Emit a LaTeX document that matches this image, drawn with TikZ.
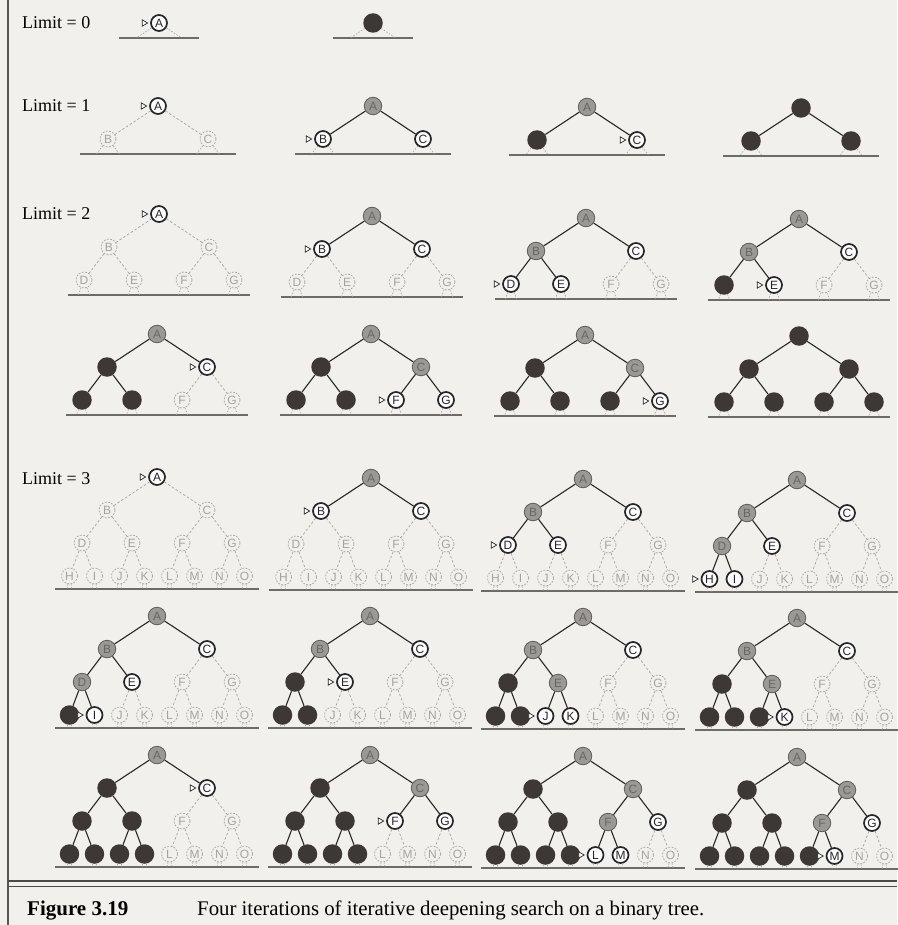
\documentclass[tikz,border=0pt]{standalone}
\usepackage{fontspec}
\setmainfont{Liberation Serif}
\newfontfamily\treefont{Liberation Sans}
\usetikzlibrary{positioning}

\definecolor{paperc}{HTML}{F2F0EC}
\definecolor{inkc}{HTML}{262626}
\definecolor{expc}{HTML}{9C9995}
\definecolor{deadc}{HTML}{3D3835}
\definecolor{faintc}{HTML}{A3A3A3}
\definecolor{rulec}{HTML}{6E6A67}

\tikzset{
  tnode/.style={circle, inner sep=0pt, minimum size=16pt,
    font=\treefont\fontsize{12}{12}\selectfont},
  st-n/.style={tnode, draw=faintc, text=faintc, line width=0.7pt, dash pattern=on 1.8pt off 1.4pt},
  st-f/.style={tnode, draw=inkc, fill=white, text=inkc, line width=1.7pt},
  st-c/.style={st-f},
  st-e/.style={tnode, draw=inkc!75, fill=expc, text=inkc!70, line width=0.8pt, minimum size=17.5pt},
  st-x/.style={tnode, fill=deadc, minimum size=19.5pt},
  ed-n/.style={draw=faintc, line width=0.7pt, dash pattern=on 2.5pt off 2pt},
  ed-f/.style={draw=inkc, line width=1.1pt},
  ed-c/.style={ed-f}, ed-e/.style={ed-f}, ed-x/.style={ed-f},
  stub/.style={draw=faintc, line width=0.6pt, dash pattern=on 1.5pt off 1.5pt},
  floor/.style={draw=rulec, line width=2pt},
  pointer/.style={draw=inkc, line width=0.7pt, fill=white},
  limtext/.style={anchor=west, inner sep=0pt, font=\fontsize{18}{18}\selectfont},
}

% #1 name, #2 x of root, #3 y of root, #4 depth limit, #5 node states in heap order
% n = not generated, f = frontier, c = frontier being expanded, e = expanded, x = dropped
\newcommand\searchtree[5]{%
  \pgfmathsetmacro\gap{{15,15,15,13}[#4]}
  \pgfmathsetmacro\halfw{{40,78,91,102}[#4]}
  \draw[floor] (#2-\halfw,#3+#4*33+\gap) -- (#2+\halfw,#3+#4*33+\gap);
  \foreach \s [count=\i] in {#5} {
    \pgfmathtruncatemacro\lv{\i<2 ? 0 : (\i<4 ? 1 : (\i<8 ? 2 : 3))}
    \pgfmathsetmacro\px{#2+(\i-2^\lv+0.5)*200/2^\lv-100}
    \pgfmathsetmacro\py{#3+\lv*33}
    \edef\tx{\ifcase\i\or A\or B\or C\or D\or E\or F\or G\or H\or I\or J\or K\or L\or M\or N\or O\fi}
    \if x\s \def\tx{}\fi
    \node[st-\s] (#1-\i) at (\px,\py) {\tx};
    \ifnum\lv=#4
      \pgfmathsetmacro\dx{200/2^(\lv+2)*\gap/33}
      \coordinate (#1-\i-l) at (\px-\dx,\py+\gap);
      \coordinate (#1-\i-r) at (\px+\dx,\py+\gap);
      \draw[stub] (#1-\i) -- (#1-\i-l);
      \draw[stub] (#1-\i) -- (#1-\i-r);
    \fi
  }
  \foreach \s [count=\i] in {#5} {
    \ifnum\i>1
      \pgfmathtruncatemacro\up{\i/2}
      \draw[ed-\s] (#1-\up) -- (#1-\i);
    \fi
    \if c\s
      \draw[pointer] ([xshift=-2.5pt]#1-\i.west) -- ++(-5.5,-3.2) -- ++(0,6.4) -- cycle;
    \fi
  }
}

\begin{document}
\begin{tikzpicture}[x=1pt, y=-1pt]
    \fill[paperc] (0,0) rectangle (897,925);
    \useasboundingbox (0,0) rectangle (897,925);
    \draw[rulec!80!black, line width=1.3pt] (8,0) -- (8,925);

    % limit 0
    \node[limtext] (lim0) at (22,23) {Limit = 0};
    \searchtree{l0a}{159}{23}{0}{c}
    \searchtree{l0b}{373}{23}{0}{x}

    % limit 1
    \node[limtext] (lim1) at (22,106) {Limit = 1};
    \searchtree{l1a}{158}{106}{1}{c,n,n}
    \searchtree{l1b}{373}{106}{1}{e,c,f}
    \searchtree{l1c}{587}{107}{1}{e,x,c}
    \searchtree{l1d}{801}{108}{1}{x,x,x}

    % limit 2
    \node[limtext] (lim2) at (22,214) {Limit = 2};
    \searchtree{l2a}{159}{214}{2}{c,n,n,n,n,n,n}
    \searchtree{l2b}{372}{216}{2}{e,c,f,n,n,n,n}
    \searchtree{l2c}{586}{218}{2}{e,e,f,c,f,n,n}
    \searchtree{l2d}{799}{219}{2}{e,e,f,x,c,n,n}
    \searchtree{l2e}{157}{334}{2}{e,x,c,x,x,n,n}
    \searchtree{l2f}{371}{334}{2}{e,x,e,x,x,c,f}
    \searchtree{l2g}{585}{335}{2}{e,x,e,x,x,x,c}
    \searchtree{l2h}{799}{336}{2}{x,x,x,x,x,x,x}

    % limit 3
    \node[limtext] (lim3) at (22,479) {Limit = 3};
    \searchtree{l3a}{157}{477}{3}{c,n,n,n,n,n,n,n,n,n,n,n,n,n,n}
    \searchtree{l3b}{371}{478}{3}{e,c,f,n,n,n,n,n,n,n,n,n,n,n,n}
    \searchtree{l3c}{583}{479}{3}{e,e,f,c,f,n,n,n,n,n,n,n,n,n,n}
    \searchtree{l3d}{797}{480}{3}{e,e,f,e,f,n,n,c,f,n,n,n,n,n,n}
    \searchtree{l3e}{157}{616}{3}{e,e,f,e,f,n,n,x,c,n,n,n,n,n,n}
    \searchtree{l3f}{370}{616}{3}{e,e,f,x,c,n,n,x,x,n,n,n,n,n,n}
    \searchtree{l3g}{583}{617}{3}{e,e,f,x,e,n,n,x,x,c,f,n,n,n,n}
    \searchtree{l3h}{797}{618}{3}{e,e,f,x,e,n,n,x,x,x,c,n,n,n,n}
    \searchtree{l3i}{157}{755}{3}{e,x,c,x,x,n,n,x,x,x,x,n,n,n,n}
    \searchtree{l3j}{370}{755}{3}{e,x,e,x,x,c,f,x,x,x,x,n,n,n,n}
    \searchtree{l3k}{583}{756}{3}{e,x,e,x,x,e,f,x,x,x,x,c,f,n,n}
    \searchtree{l3l}{797}{757}{3}{e,x,e,x,x,e,f,x,x,x,x,x,c,n,n}

    % caption
    \draw[rulec!70!black, line width=1.5pt] (8,881) -- (897,881);
    \draw[rulec!70!black, line width=0.9pt] (8,886) -- (897,886);
    \node[anchor=base west, inner sep=0pt, font=\fontsize{21}{21}\selectfont\bfseries] (fignum) at (27,915) {Figure 3.19};
    \node[anchor=base west, inner sep=0pt, font=\fontsize{20.8}{20.8}\selectfont] (figtext) at (197,915) {Four iterations of iterative deepening search on a binary tree.};
\end{tikzpicture}
\end{document}
